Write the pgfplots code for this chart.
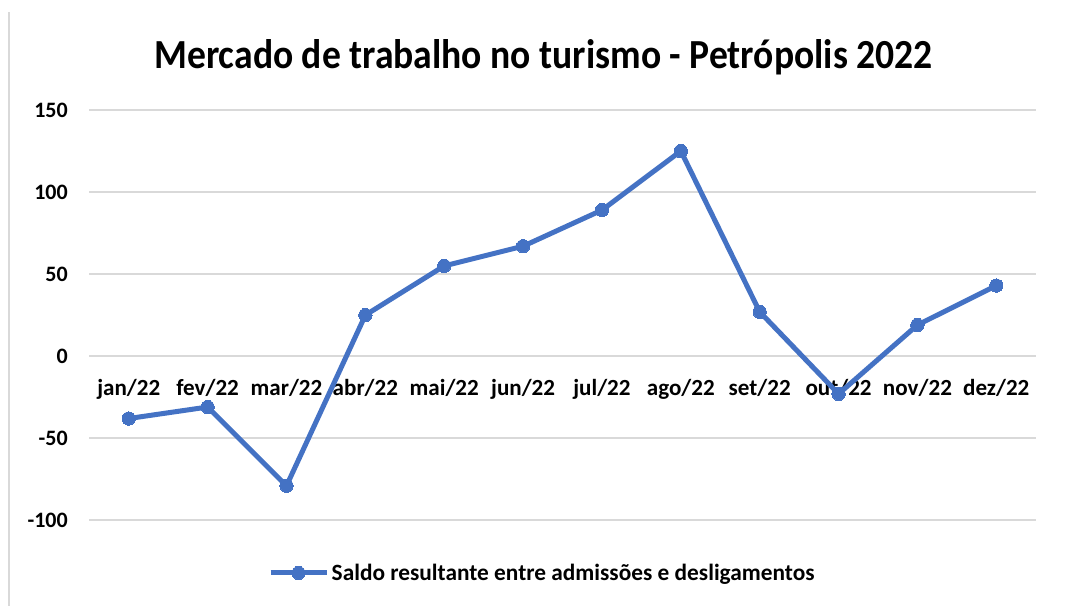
\documentclass[border=0pt]{standalone}
\usepackage{pgfplots}
\pgfplotsset{compat=1.18}
\usepackage{graphicx}
\usepackage{fontspec}
\setmainfont{Carlito}
\definecolor{exblue}{HTML}{4472C4}
\definecolor{exgrid}{HTML}{D9D9D9}
\begin{document}
\begin{tikzpicture}
\path[use as bounding box] (0,0) rectangle (798.75pt,454.5pt);
\draw[exgrid, line width=1.5pt] (6.75pt,0pt) -- (6.75pt,445.5pt);
\node[font=\fontsize{31}{36}\selectfont\bfseries] at (407.6pt,411.5pt) {\scalebox{0.91}[1]{Mercado de trabalho no turismo - Petrópolis 2022}};
\begin{axis}[
  at={(67pt,64.3pt)}, anchor=south west,
  scale only axis,
  width=709.8pt, height=307.7pt,
  xmin=-0.5, xmax=11.5,
  ymin=-100, ymax=150,
  xtick={0,...,11},
  xticklabels={jan/22,fev/22,mar/22,abr/22,mai/22,jun/22,jul/22,ago/22,set/22,out/22,nov/22,dez/22},
  ytick={-100,-50,0,50,100,150},
  major tick length=0pt,
  axis line style={draw=none},
  ymajorgrids,
  grid style={exgrid, line width=1.2pt},
  /pgf/number format/assume math mode=true,
  yticklabel style={font=\fontsize{16.5}{19}\selectfont\bfseries, anchor=east, inner sep=0pt, xshift=-16pt},
  xticklabel style={font=\fontsize{17.3}{20}\selectfont\bfseries, anchor=north, inner sep=0pt, yshift=106pt},
  legend style={at={(0.479,-0.1285)}, anchor=center, draw=none, fill=none,
    font=\fontsize{17.5}{20}\selectfont\bfseries, inner sep=0pt},
  legend image code/.code={\draw[mark repeat=2,mark phase=2,#1] plot coordinates {(0pt,0pt) (21pt,0pt) (42pt,0pt)};},
  clip=false,
]
\addplot[exblue, line width=3.75pt, mark=*, mark size=5pt, mark options={line width=0pt, fill=exblue}]
  coordinates {(0,-38) (1,-31) (2,-79) (3,25) (4,55) (5,67) (6,89) (7,125) (8,27) (9,-23) (10,19) (11,43)};
\addlegendentry{Saldo resultante entre admissões e desligamentos}
\end{axis}
\end{tikzpicture}
\end{document}
